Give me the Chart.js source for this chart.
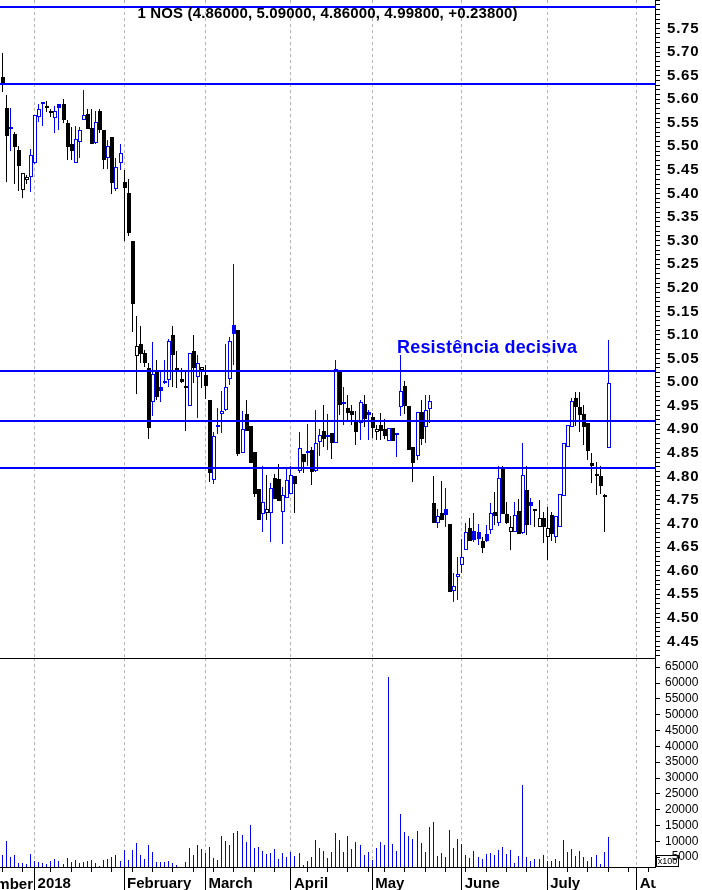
<!DOCTYPE html>
<html>
<head>
<meta charset="utf-8">
<script src="https://cdn.jsdelivr.net/npm/chart.js@4.4.1/dist/chart.umd.min.js"></script>
<style>
  body { margin: 0; background: #fff; }
  #wrap { position: relative; width: 702px; height: 890px; overflow: hidden; font-family: "Liberation Sans", Arial, sans-serif; }
  canvas { position: absolute; left: 0; }
  #price { top: 0; }
  #vol { top: 658px; }
  #title { position: absolute; left: 0; top: 5px; width: 655px; text-align: center; font-weight: bold; font-size: 15px; line-height: 15px; letter-spacing: 0.15px; color: #000; white-space: nowrap; }
  #note { position: absolute; left: 397px; top: 338px; font-weight: bold; font-size: 18px; line-height: 18px; letter-spacing: 0.2px; color: #0000ff; white-space: nowrap; }
  #sep { position: absolute; left: 0; top: 658px; width: 655px; height: 1px; background: #000; }
  #dec { position: absolute; left: -67px; top: 875px; width: 100px; text-align: right; font-weight: bold; font-size: 15px; line-height: 18px; color: #000; }
  #mask { position: absolute; left: 656px; top: 869px; width: 46px; height: 21px; background: #fff; }
  #x100 { position: absolute; left: 656px; top: 855px; width: 21px; height: 10px; border: 1px solid #000; font-size: 9px; line-height: 10px; text-align: center; color: #000; }
</style>
</head>
<body>
<div id="wrap">
  <canvas id="price" width="702" height="658"></canvas>
  <canvas id="vol" width="702" height="232"></canvas>
  <div id="sep"></div>
  <div id="title"></div>
  <div id="note">Resistência decisiva</div>
  <div id="dec">December</div>
  <div id="mask"></div>
  <div id="x100">x100</div>
</div>
<script>
// trading days (last ones are empty future slots)
const dates = [
  '2017-12-18','2017-12-19','2017-12-20','2017-12-21','2017-12-22','2017-12-27','2017-12-28','2017-12-29',
  '2018-01-02','2018-01-03','2018-01-04','2018-01-05','2018-01-08','2018-01-09','2018-01-10','2018-01-11','2018-01-12','2018-01-15','2018-01-16','2018-01-17','2018-01-18','2018-01-19','2018-01-22','2018-01-23','2018-01-24','2018-01-25','2018-01-26','2018-01-29','2018-01-30','2018-01-31',
  '2018-02-01','2018-02-02','2018-02-05','2018-02-06','2018-02-07','2018-02-08','2018-02-09','2018-02-12','2018-02-13','2018-02-14','2018-02-15','2018-02-16','2018-02-19','2018-02-20','2018-02-21','2018-02-22','2018-02-23','2018-02-26','2018-02-27','2018-02-28',
  '2018-03-01','2018-03-02','2018-03-05','2018-03-06','2018-03-07','2018-03-08','2018-03-09','2018-03-12','2018-03-13','2018-03-14','2018-03-15','2018-03-16','2018-03-19','2018-03-20','2018-03-21','2018-03-22','2018-03-23','2018-03-26','2018-03-27','2018-03-28','2018-03-29',
  '2018-04-03','2018-04-04','2018-04-05','2018-04-06','2018-04-09','2018-04-10','2018-04-11','2018-04-12','2018-04-13','2018-04-16','2018-04-17','2018-04-18','2018-04-19','2018-04-20','2018-04-23','2018-04-24','2018-04-25','2018-04-26','2018-04-27','2018-04-30',
  '2018-05-02','2018-05-03','2018-05-04','2018-05-07','2018-05-08','2018-05-09','2018-05-10','2018-05-11','2018-05-14','2018-05-15','2018-05-16','2018-05-17','2018-05-18','2018-05-21','2018-05-22','2018-05-23','2018-05-24','2018-05-25','2018-05-28','2018-05-29','2018-05-30','2018-05-31',
  '2018-06-01','2018-06-04','2018-06-05','2018-06-06','2018-06-07','2018-06-08','2018-06-11','2018-06-12','2018-06-13','2018-06-14','2018-06-15','2018-06-18','2018-06-19','2018-06-20','2018-06-21','2018-06-22','2018-06-25','2018-06-26','2018-06-27','2018-06-28','2018-06-29',
  '2018-07-02','2018-07-03','2018-07-04','2018-07-05','2018-07-06','2018-07-09','2018-07-10','2018-07-11','2018-07-12','2018-07-13','2018-07-16','2018-07-17','2018-07-18','2018-07-19','2018-07-20','2018-07-23',
  '2018-07-24','2018-07-25','2018-07-26','2018-07-27','2018-07-30','2018-07-31','2018-08-01','2018-08-02','2018-08-03','2018-08-06','2018-08-07'
];

const open = [5.647,5.582,5.536,5.526,5.492,5.407,5.428,5.436,
  5.464,5.562,5.589,5.583,5.571,5.561,5.589,5.589,5.549,5.505,5.464,5.509,5.556,5.569,5.538,5.507,5.575,5.535,5.475,5.519,5.410,5.464,
  5.425,5.402,5.299,5.056,5.081,5.062,5.029,4.957,5.022,4.990,4.999,5.004,5.100,5.030,5.006,4.990,4.950,5.066,5.011,5.026,
  5.015,4.962,4.792,4.904,4.932,4.940,5.006,5.121,5.111,4.849,4.932,4.906,4.851,4.773,4.720,4.722,4.722,4.797,4.794,4.724,4.754,
  4.762,4.801,4.811,4.848,4.849,4.856,4.811,4.872,4.896,4.883,4.891,4.871,5.022,4.955,4.944,4.939,4.916,4.913,4.954,4.936,
  4.925,4.894,4.909,4.901,4.874,4.902,4.891,4.948,4.992,4.949,4.863,4.843,4.937,4.905,4.942,4.743,4.701,4.723,4.730,4.699,4.556,4.587,
  4.611,4.643,4.691,4.684,4.683,4.664,4.678,4.686,4.725,4.701,4.815,4.720,4.683,4.683,4.727,4.679,4.771,4.746,4.728,4.693,4.711,
  4.671,4.718,4.672,4.693,4.758,4.862,4.904,4.966,4.947,4.932,4.914,4.829,4.803,4.801,4.756,4.860];

const high = [5.698,5.609,5.582,5.530,5.501,5.443,5.440,5.494,
  5.566,5.589,5.593,5.596,5.579,5.586,5.589,5.600,5.556,5.540,5.543,5.542,5.620,5.579,5.579,5.575,5.579,5.535,5.513,5.519,5.475,5.505,
  5.450,5.430,5.300,5.140,5.118,5.068,5.040,5.084,5.047,5.022,5.047,5.092,5.118,5.066,5.030,5.026,5.061,5.100,5.057,5.031,
  5.036,4.962,4.895,4.944,4.982,5.081,5.096,5.250,5.111,4.939,4.962,4.906,4.851,4.773,4.822,4.803,4.787,4.804,4.826,4.778,4.817,
  4.822,4.801,4.894,4.848,4.911,4.862,4.941,4.900,4.951,4.932,4.891,5.047,5.022,4.989,4.973,4.951,4.939,4.962,4.973,4.941,
  4.934,4.909,4.934,4.922,4.902,4.902,4.891,5.058,5.003,4.949,4.863,4.937,4.962,4.973,4.973,4.801,4.730,4.790,4.775,4.699,4.595,4.630,
  4.667,4.702,4.711,4.722,4.700,4.672,4.697,4.744,4.766,4.822,4.822,4.746,4.717,4.746,4.751,4.870,4.822,4.754,4.729,4.749,4.725,
  4.736,4.725,4.715,4.762,4.870,4.910,4.966,4.980,4.978,4.951,4.914,4.849,4.831,4.821,4.762,5.090];

const low = [5.615,5.424,5.490,5.420,5.406,5.391,5.420,5.404,
  5.462,5.552,5.544,5.573,5.563,5.528,5.535,5.550,5.471,5.471,5.464,5.476,5.556,5.536,5.506,5.506,5.528,5.452,5.452,5.398,5.406,5.450,
  5.300,5.310,5.107,4.975,5.040,5.033,4.879,4.929,4.961,4.958,4.996,4.990,4.989,4.987,4.999,4.896,4.950,4.998,4.923,4.988,
  4.964,4.789,4.783,4.890,4.893,4.939,4.994,5.036,4.843,4.849,4.897,4.828,4.757,4.708,4.681,4.708,4.660,4.751,4.748,4.656,4.754,
  4.762,4.722,4.807,4.807,4.821,4.782,4.810,4.843,4.863,4.856,4.837,4.871,4.930,4.910,4.920,4.910,4.867,4.877,4.905,4.877,
  4.881,4.877,4.877,4.879,4.874,4.874,4.842,4.929,4.932,4.856,4.789,4.835,4.866,4.870,4.913,4.702,4.690,4.708,4.693,4.555,4.533,4.538,
  4.595,4.643,4.662,4.660,4.655,4.637,4.660,4.678,4.697,4.695,4.721,4.700,4.644,4.683,4.678,4.678,4.676,4.697,4.693,4.693,4.658,
  4.623,4.663,4.658,4.693,4.758,4.862,4.904,4.906,4.895,4.867,4.835,4.785,4.761,4.763,4.681,4.860];

const close = [5.630,5.523,5.538,5.499,5.459,5.443,5.434,5.482,
  5.566,5.579,5.591,5.581,5.570,5.575,5.581,5.555,5.499,5.491,5.515,5.535,5.566,5.536,5.506,5.551,5.535,5.471,5.501,5.422,5.456,5.485,
  5.411,5.317,5.166,5.077,5.059,5.041,4.903,5.017,4.968,4.982,5.000,5.087,5.057,5.024,5.001,4.988,5.061,5.029,5.040,5.031,
  4.992,4.807,4.886,4.909,4.939,4.989,5.087,5.101,4.847,4.901,4.897,4.828,4.762,4.708,4.746,4.730,4.775,4.751,4.748,4.761,4.792,
  4.802,4.783,4.860,4.831,4.851,4.810,4.871,4.888,4.879,4.884,4.870,5.027,4.951,4.953,4.934,4.930,4.895,4.957,4.922,4.930,
  4.902,4.900,4.897,4.886,4.902,4.874,4.887,4.981,4.949,4.856,4.828,4.937,4.880,4.941,4.960,4.702,4.715,4.708,4.719,4.555,4.568,4.592,
  4.628,4.683,4.662,4.665,4.668,4.648,4.662,4.723,4.717,4.796,4.721,4.702,4.693,4.718,4.678,4.803,4.697,4.738,4.726,4.711,4.693,
  4.690,4.678,4.715,4.762,4.870,4.910,4.960,4.947,4.930,4.904,4.853,4.823,4.800,4.780,4.760,4.998];

// volume in hundreds of shares
const volume = [5700,10100,5050,5700,3160,3060,2840,6000,
  3790,3470,3160,2950,3790,4420,3790,2840,4740,3470,4100,3160,3470,3790,4100,3160,2300,4100,4420,5050,5700,3790,
  7260,4100,7260,9470,5700,4420,8840,6630,3470,3470,3470,3790,3160,2530,1500,3470,7900,5700,8840,7580,
  6320,8210,4740,4100,11700,10100,8840,12600,13300,12000,9790,15200,7900,8210,6950,6000,6320,7580,4420,6320,5050,
  6630,5370,6320,2530,3790,5050,10400,7900,6950,4740,6630,12600,10400,6630,11700,7580,9690,8840,5680,6630,
  4210,7900,9790,8840,62000,9160,6950,18630,12950,11680,10740,13260,9470,6630,14530,16100,5370,6320,5050,13580,7900,10740,
  9160,5680,4740,6950,5050,4420,6000,6320,5680,7260,8210,6000,7260,3160,5370,27790,5050,3790,4420,4420,5680,
  3790,3790,4420,3790,10420,6630,7580,5370,6950,5050,3790,5050,5680,2840,6630,11370];

const levels = [5.796, 5.632, 5.024, 4.918, 4.817];
const priceTicks = ['4.45','4.50','4.55','4.60','4.65','4.70','4.75','4.80','4.85','4.90','4.95','5.00','5.05','5.10',
  '5.15','5.20','5.25','5.30','5.35','5.40','5.45','5.50','5.55','5.60','5.65','5.70','5.75'];
const volumeTicks = [5000,10000,15000,20000,25000,30000,35000,40000,45000,50000,55000,60000,65000];
const monthNames = ['January','February','March','April','May','June','July','August','September','October','November','December'];

const BLUE = '#0000ff';
const BLACK = '#000000';
const GRID = '#b4b4b4';
const NONE = 'rgba(0,0,0,0)';
const FONT = "'Liberation Sans', Arial, sans-serif";

const day = s => new Date(s + 'T00:00:00Z');
const monthStart = dates.map((d, i) => i > 0 && day(d).getUTCMonth() !== day(dates[i - 1]).getUTCMonth());
const weekStart = dates.map((d, i) => i === 0 || day(d).getUTCDay() <= day(dates[i - 1]).getUTCDay());
const monthLabel = i => {
  const d = day(dates[i]);
  return d.getUTCMonth() === 0 ? String(d.getUTCFullYear()) : monthNames[d.getUTCMonth()];
};

// blue when close >= previous close, hollow when close > open
const color = close.map((c, i) => (i > 0 && c >= close[i - 1]) ? BLUE : BLACK);
const hollow = close.map((c, i) => c > open[i]);

const last = close.length - 1;
const f = v => v.toFixed(5);
const chg = close[last] - close[last - 1];
document.getElementById('title').textContent =
  `1 NOS (${f(open[last])}, ${f(high[last])}, ${f(low[last])}, ${f(close[last])}, ${chg >= 0 ? '+' : ''}${f(chg)})`;

// snap bars to whole pixels so thin wicks stay sharp
const crisp = {
  id: 'crisp',
  afterDatasetsUpdate(chart) {
    chart.data.datasets.forEach((ds, d) => {
      const shift = ds.barThickness > 1 ? 0.5 : 0;
      chart.getDatasetMeta(d).data.forEach(el => {
        el.x = Math.round(el.x - 0.5) + 0.5 + shift;
        el.y = Math.round(el.y);
        el.base = Math.round(el.base);
      });
    });
  }
};

const levelLines = {
  id: 'levelLines',
  afterDatasetsDraw(chart) {
    const {ctx, chartArea, scales} = chart;
    ctx.save();
    ctx.strokeStyle = BLUE;
    ctx.lineWidth = 2;
    levels.forEach(v => {
      const y = Math.round(scales.y.getPixelForValue(v));
      ctx.beginPath();
      ctx.moveTo(chartArea.left, y);
      ctx.lineTo(chartArea.right, y);
      ctx.stroke();
    });
    ctx.restore();
  }
};

const spacing = {
  id: 'spacing',
  beforeDraw(chart) { chart.ctx.letterSpacing = '0.8px'; }
};

const weekTicks = {
  id: 'weekTicks',
  afterDraw(chart) {
    const {ctx, chartArea, scales} = chart;
    ctx.save();
    ctx.strokeStyle = BLACK;
    ctx.lineWidth = 1;
    ctx.beginPath();
    weekStart.forEach((w, i) => {
      if (!w) return;
      const x = Math.round(scales.x.getPixelForValue(i) - 0.5) + 0.5;
      ctx.moveTo(x, chartArea.bottom);
      ctx.lineTo(x, chartArea.bottom + 5);
    });
    ctx.stroke();
    ctx.restore();
  }
};

const priceChart = new Chart(document.getElementById('price'), {
  type: 'bar',
  data: {
    labels: dates,
    datasets: [{
      data: open.map((o, i) => [o, close[i]]),
      backgroundColor: hollow.map((h, i) => h ? '#ffffff' : color[i]),
      borderColor: color,
      borderWidth: hollow.map(h => h ? 1 : 0),
      borderSkipped: false,
      barThickness: 4,
      minBarLength: 2,
      inflateAmount: 0,
      grouped: false,
      order: 0
    }, {
      data: low.map((l, i) => [l, high[i]]),
      backgroundColor: color,
      borderWidth: 0,
      barThickness: 1,
      inflateAmount: 0,
      grouped: false,
      order: 1
    }]
  },
  options: {
    responsive: false,
    animation: false,
    events: [],
    layout: { padding: 0, autoPadding: false },
    plugins: { legend: { display: false }, tooltip: { enabled: false } },
    scales: {
      x: {
        offset: true,
        grid: { offset: false, color: c => monthStart[c.index] ? GRID : NONE, drawTicks: false },
        border: { display: false, dash: [3, 3] },
        ticks: { display: false, autoSkip: false },
        afterFit: s => { s.height = 0; s.paddingLeft = 0; s.paddingRight = 0; }
      },
      y: {
        position: 'right',
        min: 4.4148,
        max: 5.8104,
        afterBuildTicks: s => {
          const t = [];
          for (let k = 442; k <= 581; k++) t.push({ value: k / 100 });
          s.ticks = t;
        },
        ticks: {
          autoSkip: false,
          padding: 7,
          color: BLACK,
          font: { family: FONT, size: 15, weight: 'bold' },
          callback: v => priceTicks.includes(v.toFixed(2)) ? v.toFixed(2) : ''
        },
        grid: { drawOnChartArea: false, tickLength: 5, tickColor: BLACK },
        border: { color: BLACK },
        afterFit: s => { s.width = 47; s.paddingTop = 0; s.paddingBottom = 0; }
      }
    }
  },
  plugins: [crisp, levelLines, spacing]
});

const volumeChart = new Chart(document.getElementById('vol'), {
  type: 'bar',
  data: {
    labels: dates,
    datasets: [{
      data: volume,
      backgroundColor: BLUE,
      borderWidth: 0,
      barThickness: 1,
      inflateAmount: 0
    }]
  },
  options: {
    responsive: false,
    animation: false,
    events: [],
    layout: { padding: 0, autoPadding: false },
    plugins: { legend: { display: false }, tooltip: { enabled: false } },
    scales: {
      x: {
        offset: true,
        grid: {
          offset: false,
          color: c => monthStart[c.index] ? GRID : NONE,
          tickColor: c => monthStart[c.index] ? BLACK : NONE,
          tickLength: 23
        },
        border: { color: BLACK, dash: [3, 3] },
        ticks: {
          autoSkip: false,
          maxRotation: 0,
          align: 'start',
          padding: -15,
          color: BLACK,
          font: { family: FONT, size: 15, weight: 'bold' },
          callback: (v, i) => monthStart[i] ? '\u2009' + monthLabel(i) : ''
        },
        afterFit: s => { s.height = 23; s.paddingLeft = 0; s.paddingRight = 0; }
      },
      y: {
        position: 'right',
        min: 1900,
        max: 67900,
        afterBuildTicks: s => { s.ticks = volumeTicks.map(v => ({ value: v })); },
        ticks: {
          autoSkip: false,
          padding: 5,
          color: BLACK,
          font: { family: FONT, size: 12 },
          // figure spaces keep the numbers right-aligned
          callback: v => String(v).padStart(5, '\u2007')
        },
        grid: { drawOnChartArea: false, tickLength: 5, tickColor: BLACK },
        border: { color: BLACK },
        afterFit: s => { s.width = 47; s.paddingTop = 0; s.paddingBottom = 0; }
      }
    }
  },
  plugins: [crisp, weekTicks]
});
</script>
</body>
</html>
